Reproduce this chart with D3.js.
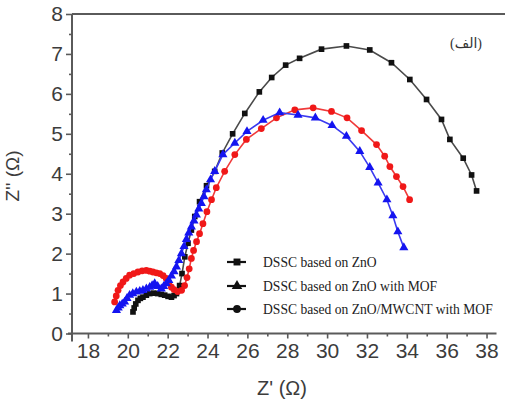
<!DOCTYPE html>
<html>
<head>
<meta charset="utf-8">
<script src="https://cdn.jsdelivr.net/npm/d3@7"></script>
<style>
html,body{margin:0;padding:0;background:#fff;}
svg{display:block;}
</style>
</head>
<body>
<svg id="chart" width="505" height="407"></svg>
<script>
// ---------- data ----------
const seriesNames = ["DSSC based on ZnO", "DSSC based on ZnO with MOF", "DSSC based on ZnO/MWCNT with MOF"];

const znoX = [20.26,20.32,20.4,20.51,20.63,20.76,20.93,21.1,21.3,21.5,21.68,21.85,22.02,22.19,22.32,22.44,22.6,22.72,22.86,23.02,23.19,23.36,23.6,23.95,24.36,24.74,25.26,25.87,26.6,27.22,27.92,28.62,29.72,30.97,32.14,33.23,34.15,34.99,35.74,36.16,36.83,37.25,37.5];
const znoY = [0.54,0.64,0.74,0.83,0.88,0.91,0.96,1.0,1.01,1.0,0.98,0.96,0.93,0.91,0.95,1.0,1.2,1.5,1.92,2.26,2.59,2.93,3.3,3.7,4.06,4.52,5.0,5.51,6.05,6.41,6.72,6.89,7.12,7.2,7.1,6.78,6.36,5.86,5.36,4.86,4.39,3.97,3.57];

const mofX = [19.43,19.52,19.6,19.72,19.84,19.96,20.09,20.25,20.43,20.6,20.76,20.93,21.1,21.22,21.35,21.5,21.68,21.8,21.93,22.06,22.19,22.32,22.44,22.56,22.69,22.82,22.94,23.06,23.19,23.32,23.44,23.56,23.69,23.82,23.94,24.15,24.36,24.77,25.37,25.98,26.79,27.62,28.54,29.41,30.25,30.97,31.64,32.14,32.56,33.0,33.3,33.55,33.85];
const mofY = [0.58,0.64,0.7,0.74,0.79,0.88,0.96,1.0,1.04,1.06,1.08,1.12,1.16,1.2,1.25,1.18,1.12,1.18,1.25,1.33,1.44,1.55,1.67,1.83,2.0,2.18,2.36,2.52,2.67,2.82,2.97,3.12,3.26,3.43,3.6,3.85,4.06,4.48,4.77,5.06,5.34,5.53,5.47,5.4,5.21,4.94,4.56,4.16,3.77,3.35,2.95,2.55,2.15];

const mwX = [19.34,19.42,19.51,19.63,19.76,19.92,20.09,20.3,20.51,20.72,20.93,21.1,21.26,21.43,21.6,21.77,21.93,22.06,22.19,22.32,22.5,22.7,22.85,22.97,23.08,23.19,23.3,23.45,23.6,23.77,23.97,24.2,24.44,24.86,25.37,25.95,26.7,27.46,28.38,29.3,30.22,31.0,31.73,32.48,32.89,33.15,33.48,33.81,34.14];
const mwY = [0.79,0.94,1.08,1.2,1.29,1.38,1.46,1.5,1.54,1.57,1.58,1.56,1.54,1.52,1.5,1.45,1.38,1.27,1.16,1.1,1.05,1.08,1.2,1.4,1.62,1.88,2.08,2.3,2.5,2.75,3.05,3.35,3.65,4.06,4.48,4.86,5.13,5.4,5.6,5.65,5.56,5.4,5.08,4.73,4.44,4.18,3.93,3.68,3.35];

const xTickValues = [18,20,22,24,26,28,30,32,34,36,38];
const xMinorValues = [19,21,23,25,27,29,31,33,35,37];
const yTickValues = [0,1,2,3,4,5,6,7,8];
const yMinorValues = [0.5,1.5,2.5,3.5,4.5,5.5,6.5,7.5];
const xTitle = "Z' (\u03A9)";
const yTitle = "Z'' (\u03A9)";
const panelLabel = "(\u0627\u0644\u0641)";

// ---------- layout ----------
const svg = d3.select("#chart");
const W = 505, H = 407;
const mLeft = 72, mRight = 496.5, mTop = 14, mBottom = 333.5;

const x = d3.scaleLinear().domain([17.2, 38.5]).range([mLeft, mRight]);
const y = d3.scaleLinear().domain([0, 8]).range([mBottom, mTop]);

const axisColor = "#5a5a5a";
const textColor = "#3c3c3c";

// top frame line
svg.append("line")
  .attr("x1", mLeft).attr("x2", W).attr("y1", mTop).attr("y2", mTop)
  .attr("stroke", axisColor).attr("stroke-width", 2);

// x axis
const gx = svg.append("g").attr("transform", `translate(0,${mBottom})`);
gx.call(d3.axisBottom(x).tickValues(xTickValues).tickSize(5).tickPadding(5).tickFormat(d3.format("d")));
const gxm = svg.append("g").attr("transform", `translate(0,${mBottom})`);
gxm.call(d3.axisBottom(x).tickValues(xMinorValues).tickSize(3).tickFormat(""));
gxm.select(".domain").remove();

// y axis
const gy = svg.append("g").attr("transform", `translate(${mLeft},0)`);
gy.call(d3.axisLeft(y).tickValues(yTickValues).tickSize(6).tickPadding(3).tickFormat(d3.format("d")));
const gym = svg.append("g").attr("transform", `translate(${mLeft},0)`);
gym.call(d3.axisLeft(y).tickValues(yMinorValues).tickSize(3).tickFormat(""));
gym.select(".domain").remove();

[gx, gxm, gy, gym].forEach(g => {
  g.selectAll(".domain").attr("stroke", axisColor).attr("stroke-width", 2);
  g.selectAll(".tick line").attr("stroke", axisColor).attr("stroke-width", 1.6);
  g.selectAll(".tick text")
    .attr("fill", textColor)
    .style("font-family", "'Liberation Sans', Arial, sans-serif")
    .style("font-size", "21px");
});
gx.select(".domain").attr("d", `M${mLeft - 4},0H${mRight}`);
gy.select(".domain").attr("d", `M0,${mTop}V${mBottom + 8}`);

// axis titles
svg.append("text")
  .attr("x", 282).attr("y", 395)
  .attr("text-anchor", "middle")
  .attr("fill", textColor)
  .style("font-family", "'Liberation Sans', Arial, sans-serif")
  .style("font-size", "20px")
  .text(xTitle);

svg.append("text")
  .attr("transform", "translate(19,176) rotate(-90)")
  .attr("text-anchor", "middle")
  .attr("fill", textColor)
  .style("font-family", "'Liberation Sans', Arial, sans-serif")
  .style("font-size", "19px")
  .text(yTitle);

// ---------- series ----------
const series = [
  {xs: znoX, ys: znoY, color: "#111111", lineColor: "#4a4a4a", symbol: d3.symbolSquare, size: 32},
  {xs: mwX,  ys: mwY,  color: "#f01818", lineColor: "#f03a3a", symbol: d3.symbolCircle, size: 36},
  {xs: mofX, ys: mofY, color: "#1414f0", lineColor: "#3a3af0", symbol: d3.symbolTriangle, size: 36}
];

const line = d3.line().x(d => x(d[0])).y(d => y(d[1]));

series.forEach(s => {
  const pts = s.xs.map((v, i) => [v, s.ys[i]]);
  svg.append("path")
    .datum(pts)
    .attr("d", line)
    .attr("fill", "none")
    .attr("stroke", s.lineColor)
    .attr("stroke-width", 1.6);
  svg.append("g").selectAll("path")
    .data(pts)
    .join("path")
    .attr("transform", d => `translate(${x(d[0])},${y(d[1])})`)
    .attr("d", d3.symbol().type(s.symbol).size(s.size))
    .attr("fill", s.color);
});

// ---------- legend ----------
const legendSymbols = [d3.symbolSquare, d3.symbolTriangle, d3.symbolCircle];
const legendY = [262, 286, 309];
seriesNames.forEach((name, i) => {
  const g = svg.append("g").attr("transform", `translate(0,${legendY[i]})`);
  g.append("line").attr("x1", 227).attr("x2", 246).attr("y1", 0).attr("y2", 0)
    .attr("stroke", "#111").attr("stroke-width", 2.2);
  g.append("path").attr("transform", "translate(237,0)")
    .attr("d", d3.symbol().type(legendSymbols[i]).size(48))
    .attr("fill", "#111");
  g.append("text").attr("x", 263).attr("y", 0).attr("dy", "0.35em")
    .attr("fill", "#222")
    .style("font-family", "'Liberation Serif', 'Times New Roman', serif")
    .style("font-size", "13.6px")
    .text(name);
});

// panel label (Arabic)
svg.append("text")
  .attr("x", 466).attr("y", 48)
  .attr("text-anchor", "middle")
  .attr("fill", "#333")
  .style("font-family", "'Liberation Serif', 'DejaVu Sans', serif")
  .style("font-size", "14px")
  .text(panelLabel);
</script>
</body>
</html>
